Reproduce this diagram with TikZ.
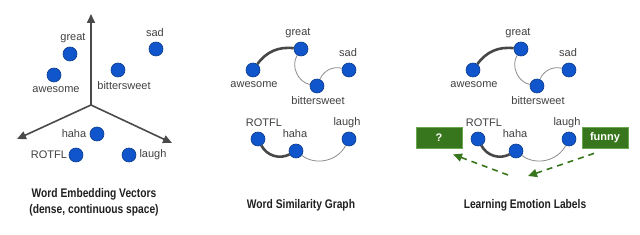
\documentclass[tikz,border=0pt]{standalone}
\usepackage{fontspec}
\setmainfont{Liberation Sans}
\newfontfamily\titlefont[FakeStretch=0.82]{Liberation Sans}
\usetikzlibrary{arrows.meta}

\definecolor{dotblue}{HTML}{1155CC}
\definecolor{dotedge}{HTML}{0B3C8C}
\definecolor{txtgray}{HTML}{404040}
\definecolor{axisgray}{HTML}{4A4A4A}
\definecolor{boxgreen}{HTML}{38761D}
\definecolor{boxedge}{HTML}{6AA84F}

\begin{document}
\begin{tikzpicture}[x=1pt,y=1pt,
  every node/.style={font=\fontsize{11}{13}\selectfont,text=txtgray},
  word/.style={circle,fill=dotblue,draw=dotedge,line width=0.6pt,minimum size=14pt,inner sep=0pt},
  axis/.style={axisgray,line width=1.6pt,-{Triangle[length=9pt,width=8pt]}},
  strong/.style={draw=black!72,line width=2.6pt},
  weak/.style={draw=black!45,line width=0.8pt},
  emobox/.style={fill=boxgreen,draw=boxedge,line width=0.8pt,minimum width=46pt,minimum height=21pt,text=white,font=\bfseries\fontsize{11}{13}\selectfont},
  guess/.style={boxgreen,line width=1.6pt,dash pattern=on 6pt off 5pt,-{Triangle[length=9pt,width=8pt]}},
  title/.style={font=\titlefont\bfseries\fontsize{12.5}{16}\selectfont,text=black!88,align=center}]
\useasboundingbox (0,0) rectangle (640,-235);

% embedding space
\coordinate (o) at (91,-105);
\coordinate (up) at (91,-14);
\coordinate (left) at (17,-139);
\coordinate (right) at (172,-143);
\draw[axis] (o) -- (up);
\draw[axis] (o) -- (left);
\draw[axis] (o) -- (right);

\node[word] (great) at (70,-54) {};
\node[word] (sad) at (156,-49) {};
\node[word] (awesome) at (54,-75) {};
\node[word] (bitter) at (118,-70) {};
\node[word] (haha) at (97,-134) {};
\node[word] (rotfl) at (76,-155) {};
\node[word] (laugh) at (129,-155) {};
\node (greatlbl) at (73,-38) {great};
\node (sadlbl) at (155,-33) {sad};
\node (awesomelbl) at (56,-90) {awesome};
\node (bitterlbl) at (124,-86) {bittersweet};
\node (hahalbl) at (74,-134) {haha};
\node (rotfllbl) at (49,-155) {ROTFL};
\node (laughlbl) at (153,-155) {laugh};

% similarity graph, twice
\foreach \dx/\pfx in {0/g,220/e}{
\begin{scope}[xshift=\dx pt]
  \node[word] (\pfx-great) at (301,-49) {};
  \node[word] (\pfx-awesome) at (253,-70) {};
  \node[word] (\pfx-sad) at (349,-70) {};
  \node[word] (\pfx-bitter) at (317,-86) {};
  \node[word] (\pfx-rotfl) at (258,-139) {};
  \node[word] (\pfx-haha) at (296,-151) {};
  \node[word] (\pfx-laugh) at (349,-139) {};
  \node (\pfx-greatlbl) at (298,-33) {great};
  \node (\pfx-awesomelbl) at (254,-85) {awesome};
  \node (\pfx-sadlbl) at (348,-53) {sad};
  \node (\pfx-bitterlbl) at (318,-101) {bittersweet};
  \node (\pfx-rotfllbl) at (264,-123) {ROTFL};
  \node (\pfx-hahalbl) at (295,-134) {haha};
  \node (\pfx-laughlbl) at (347,-123) {laugh};
  \draw[strong] (\pfx-awesome) to[bend left=30] (\pfx-great);
  \draw[weak] (\pfx-great) to[bend right=55] (\pfx-bitter);
  \draw[weak] (\pfx-bitter) to[bend left=40] (\pfx-sad);
  \draw[strong] (\pfx-rotfl) to[bend right=45] (\pfx-haha);
  \draw[weak] (\pfx-haha) to[bend right=50] (\pfx-laugh);
\end{scope}
}

% emotion labels
\node[emobox] (unknown) at (439,-137.5) {?};
\node[emobox] (funny) at (605,-137.5) {funny};
\coordinate (midtip) at (528,-176);
\coordinate (midtail) at (508,-175);
\draw[guess] ([xshift=-11pt,yshift=-5pt]funny.south) -- (midtip);
\draw[guess] (midtail) -- ([xshift=14pt,yshift=-6pt]unknown.south);

\node[title] (embtitle) at (94,-202) {Word Embedding Vectors\\(dense, continuous space)};
\node[title] (simtitle) at (301,-205) {Word Similarity Graph};
\node[title] (emotitle) at (525,-205) {Learning Emotion Labels};
\end{tikzpicture}
\end{document}
